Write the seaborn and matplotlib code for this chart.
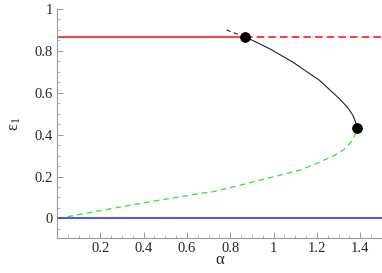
import matplotlib
matplotlib.use("Agg")
import matplotlib.pyplot as plt
import numpy as np
import seaborn as sns
import pandas as pd
from matplotlib.ticker import MultipleLocator, FuncFormatter

# branch values
red_level = 0.866
red_solid_x = [0.0, 0.866]
red_dash_x = [0.866, 1.5]
blue_x = [0.0, 1.5]
blue_level = 0.0

green_a = [0.049, 0.359, 0.659, 0.719, 0.812, 0.966, 1.12, 1.197, 1.273, 1.32, 1.358, 1.378, 1.384]
green_e = [0.008, 0.067, 0.119, 0.127, 0.150, 0.190, 0.230, 0.262, 0.297, 0.325, 0.365, 0.405, 0.433]

black_dash_a = [0.782, 0.863]
black_dash_e = [0.900, 0.868]
black_a = [0.863, 0.905, 0.982, 1.089, 1.212, 1.304, 1.342, 1.366, 1.378, 1.383, 1.384]
black_e = [0.868, 0.849, 0.810, 0.746, 0.659, 0.571, 0.529, 0.492, 0.460, 0.445, 0.433]

dots_a = [0.866, 1.384]
dots_e = [0.868, 0.433]

sns.set_theme(style="ticks")
plt.rcParams["font.family"] = ["Liberation Serif", "DejaVu Serif"]
plt.rcParams["mathtext.fontset"] = "custom"
plt.rcParams["mathtext.rm"] = "Liberation Serif"
plt.rcParams["mathtext.it"] = "Liberation Serif"

fig = plt.figure(figsize=(3.82, 2.73), dpi=100)
ax = fig.add_axes([0.149, 0.128, 0.851, 0.839])

red = "#ff1a1a"
sns.lineplot(x=red_solid_x, y=[red_level] * 2, color=red, lw=1.2, ax=ax)
sns.lineplot(x=red_dash_x, y=[red_level] * 2, color=red, lw=1.2, ax=ax,
             linestyle=(0, (4.5, 2.5)))
sns.lineplot(x=blue_x, y=[blue_level] * 2, color="#2020ff", lw=1.1, ax=ax)

df_g = pd.DataFrame({"a": green_a, "e": green_e})
sns.lineplot(data=df_g, x="a", y="e", sort=False, color="#33ee33", lw=1.0,
             linestyle=(0, (4, 3)), ax=ax)
df_bd = pd.DataFrame({"a": black_dash_a, "e": black_dash_e})
sns.lineplot(data=df_bd, x="a", y="e", sort=False, color="#222222", lw=0.8,
             linestyle=(0, (4, 3)), ax=ax)
df_b = pd.DataFrame({"a": black_a, "e": black_e})
sns.lineplot(data=df_b, x="a", y="e", sort=False, color="#222222", lw=0.8, ax=ax)
sns.scatterplot(x=dots_a, y=dots_e, color="black", s=50, edgecolor="black",
                zorder=5, ax=ax)

ax.set_xlim(0, 1.5)
ax.set_ylim(-0.094, 1.0)
ax.xaxis.set_major_locator(MultipleLocator(0.2))
ax.xaxis.set_minor_locator(MultipleLocator(0.05))
ax.yaxis.set_major_locator(MultipleLocator(0.2))
ax.yaxis.set_minor_locator(MultipleLocator(0.05))

def fmt(v, pos):
    if abs(v) < 1e-9:
        return "0"
    if abs(v - round(v)) < 1e-9:
        return str(int(round(v)))
    return "%.1f" % v

def fmt_x(v, pos):
    if abs(v) < 1e-9:
        return ""
    return fmt(v, pos)

ax.xaxis.set_major_formatter(FuncFormatter(fmt_x))
ax.yaxis.set_major_formatter(FuncFormatter(fmt))

sns.despine(ax=ax)
for s in ["left", "bottom"]:
    ax.spines[s].set_color("#999999")
    ax.spines[s].set_linewidth(0.8)
ax.tick_params(which="major", direction="in", length=4, width=0.7,
               color="#999999", labelsize=10.5, pad=3)
ax.tick_params(which="minor", direction="in", length=2, width=0.5,
               color="#999999")

ax.set_xlabel("α", fontsize=12, labelpad=-2)
ax.set_ylabel(r"$\mathrm{ε}_1$", fontsize=12, labelpad=8)

fig.savefig("out.png", dpi=100)
